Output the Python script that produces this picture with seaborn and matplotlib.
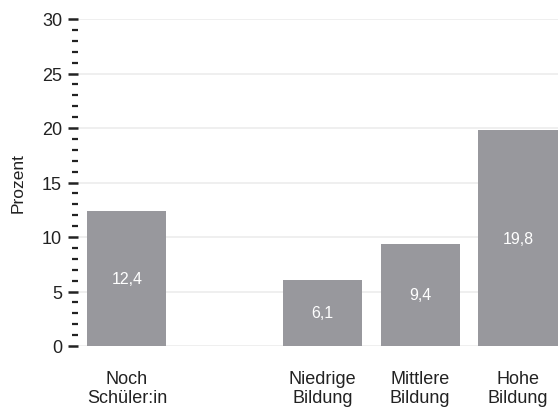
import numpy as np
import pandas as pd
import matplotlib
matplotlib.use('Agg')
import matplotlib.pyplot as plt
from matplotlib.ticker import MultipleLocator
import seaborn as sns

sns.set_style('white')
plt.rcParams['font.family'] = ['Liberation Sans', 'DejaVu Sans']

# data
categories = ['Noch\nSchüler:in', ' ', 'Niedrige\nBildung', 'Mittlere\nBildung', 'Hohe\nBildung']
values = [12.4, np.nan, 6.1, 9.4, 19.8]
yticks = [0, 5, 10, 15, 20, 25, 30]

df = pd.DataFrame({'kat': categories, 'prozent': values})

fig = plt.figure(figsize=(5.58, 4.10), dpi=100)
ax = fig.add_axes([78/558, 63/410, 480/558, 327/410])

sns.barplot(data=df.dropna(), x='kat', y='prozent', order=categories,
            color='#98989d', saturation=1, width=0.81, linewidth=0,
            ax=ax, errorbar=None)

# labels in the middle of the bars
for i, v in enumerate(values):
    if np.isnan(v):
        continue
    ax.text(i, v / 2, '{:.1f}'.format(v).replace('.', ','), ha='center', va='center',
            color='white', fontsize=11.5)

ax.set_xlim(-0.5, 4.41)
ax.set_ylim(0, 30)
ax.set_yticks(yticks)
ax.yaxis.set_minor_locator(MultipleLocator(1))
ax.yaxis.grid(True, which='major', color='#ececec', lw=1.2)
ax.set_axisbelow(True)
for s in ax.spines.values():
    s.set_visible(False)

ax.tick_params(axis='y', which='major', length=7.5, width=1.8, color='#222222',
               labelsize=13, labelcolor='#222222', pad=4, left=True)
ax.tick_params(axis='y', which='minor', length=4, width=1.6, color='#222222', left=True)
ax.tick_params(axis='x', length=0, labelsize=13, labelcolor='#222222', pad=17)

ax.set_xlabel('')
ax.set_ylabel('Prozent', fontsize=12.5, color='#222222')
ax.yaxis.set_label_coords(-0.11, 0.5)

fig.savefig('out.png', dpi=100)
